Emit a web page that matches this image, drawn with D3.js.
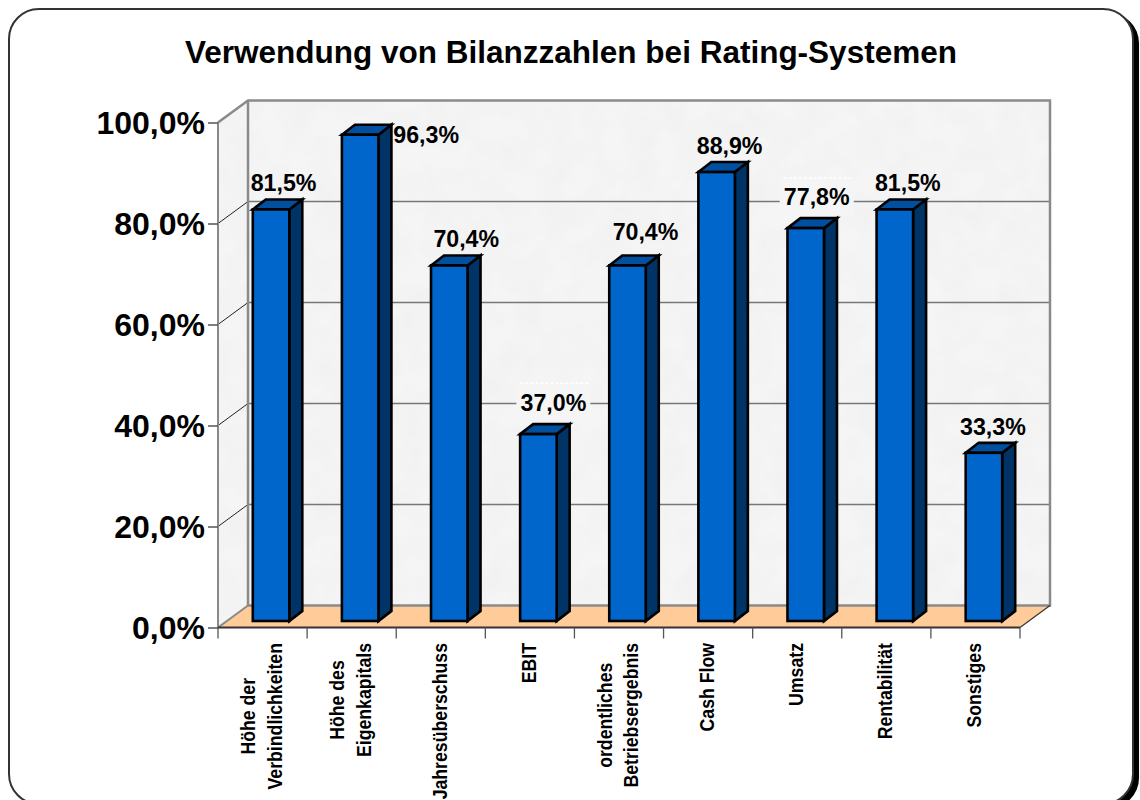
<!DOCTYPE html>
<html lang="de"><head><meta charset="utf-8">
<script src="https://cdn.jsdelivr.net/npm/d3@7"></script>
<style>html,body{margin:0;background:#fff}svg{display:block}text{font-family:"Liberation Sans",Arial,sans-serif;font-weight:bold;fill:#000}</style>
</head><body><svg id="c" width="1140" height="800"></svg>
<script>
const title = "Verwendung von Bilanzzahlen bei Rating-Systemen";
const categories = ["Höhe der\nVerbindlichkeiten","Höhe des\nEigenkapitals","Jahresüberschuss","EBIT","ordentliches\nBetriebsergebnis","Cash Flow","Umsatz","Rentabilität","Sonstiges"];
const values = [81.5,96.3,70.4,37.0,70.4,88.9,77.8,81.5,33.3];
const yTicks = [0,20,40,60,80,100];

const fmt = v => v.toFixed(1).replace(".", ",") + "%";
const svg = d3.select("#c");
const defs = svg.append("defs");
const f = defs.append("filter").attr("id","mottle").attr("x",0).attr("y",0).attr("width",1).attr("height",1);
f.append("feTurbulence").attr("type","fractalNoise").attr("baseFrequency",0.035).attr("numOctaves",3).attr("seed",4).attr("result","n");
f.append("feColorMatrix").attr("in","n").attr("type","matrix")
 .attr("values","0 0 0 0 0.6  0 0 0 0 0.6  0 0 0 0 0.6  0.16 0 0 0 -0.045").attr("result","m");
f.append("feComposite").attr("in","m").attr("in2","SourceGraphic").attr("operator","in").attr("result","c");
f.append("feMerge").selectAll("feMergeNode").data(["SourceGraphic","c"]).join("feMergeNode").attr("in",d=>d);

// frame
svg.append("rect").attr("x",13).attr("y",13).attr("width",1126).attr("height",795).attr("rx",30).attr("fill","#000");
svg.append("rect").attr("x",9).attr("y",9).attr("width",1124).attr("height",795).attr("rx",30).attr("fill","#fff").attr("stroke","#333").attr("stroke-width",2);

svg.append("text").attr("x",571).attr("y",63).attr("text-anchor","middle").attr("font-size",31.5).text(title);

// 3D plot geometry
const L=218,R=1020,Y0=627.5,Y100=122.5,DX=30,DY=-22;
const y = d3.scaleLinear().domain([0,100]).range([Y0,Y100]);
const x = d3.scaleBand().domain(categories).range([L,R]);
const wall="#f5f5f5", edge="#8a8a8a", grid="#777";
const pts=a=>a.map(p=>p.join(",")).join(" ");

svg.append("polygon").attr("points",pts([[L+DX,Y100+DY],[R+DX,Y100+DY],[R+DX,Y0+DY],[L+DX,Y0+DY]])).attr("fill",wall).attr("filter","url(#mottle)");
svg.append("polygon").attr("points",pts([[L,Y100],[L+DX,Y100+DY],[L+DX,Y0+DY],[L,Y0]])).attr("fill",wall).attr("filter","url(#mottle)");
svg.append("polygon").attr("points",pts([[L,Y0],[L+DX,Y0+DY],[R+DX,Y0+DY],[R,Y0]])).attr("fill","#ffcc99");

const gridVals = yTicks.filter(t=>t>0&&t<100);
svg.append("g").selectAll("line").data(gridVals).join("line")
  .attr("x1",L+DX).attr("x2",R+DX).attr("y1",d=>y(d)+DY).attr("y2",d=>y(d)+DY).attr("stroke",grid).attr("stroke-width",1.5);
svg.append("g").selectAll("line").data(gridVals).join("line")
  .attr("x1",L).attr("x2",L+DX).attr("y1",d=>y(d)).attr("y2",d=>y(d)+DY).attr("stroke","#222").attr("stroke-width",1);

// wall outlines
svg.append("path").attr("fill","none").attr("stroke",edge).attr("stroke-width",2.5)
  .attr("d",`M${L},${Y100}L${L+DX},${Y100+DY}H${R+DX}V${Y0+DY}H${L+DX}V${Y100+DY}`);
svg.append("path").attr("fill","none").attr("stroke",edge).attr("stroke-width",2).attr("d",`M${L},${Y100}V${Y0}L${L+DX},${Y0+DY}`);
svg.append("path").attr("fill","none").attr("stroke","#333").attr("stroke-width",1.2).attr("d",`M${R},${Y0}L${R+DX},${Y0+DY}`);

// axes
const yAxis = d3.axisLeft(y).tickValues(yTicks).tickSize(10).tickPadding(3).tickFormat(d=>d.toFixed(1).replace(".",",")+"%");
const ga = svg.append("g").attr("transform",`translate(${L},0)`).call(yAxis);
ga.select(".domain").remove();
ga.selectAll(".tick line").attr("stroke","#555").attr("stroke-width",1.5);
ga.selectAll("text").attr("font-size",32).attr("font-family",null).attr("dy","0.33em");

const xAxis = d3.axisBottom(x).tickSize(0).tickFormat("");
const gx = svg.append("g").attr("transform",`translate(0,${Y0})`).call(xAxis);
gx.select(".domain").remove(); gx.selectAll(".tick").remove();
svg.append("line").attr("x1",L).attr("x2",R).attr("y1",Y0).attr("y2",Y0).attr("stroke","#333").attr("stroke-width",1.8);
const bounds=[...categories.map(c=>x(c)),R];
svg.append("g").selectAll("line").data(bounds).join("line")
  .attr("x1",d=>d).attr("x2",d=>d).attr("y1",Y0).attr("y2",Y0+11).attr("stroke","#555").attr("stroke-width",1.3);

// bars
const BW=36.5,BDX=13,BDY=-10,OX=8.5,OY=-6.5;
const bar = svg.append("g").selectAll("g").data(values).join("g")
  .attr("transform",(d,i)=>`translate(${x(categories[i])+x.bandwidth()/2+OX-BW/2},${OY})`)
  .attr("stroke","#000").attr("stroke-width",2.6).attr("stroke-linejoin","miter");
bar.append("polygon").attr("fill","#003366")
  .attr("points",d=>pts([[BW,y(d)],[BW+BDX,y(d)+BDY],[BW+BDX,Y0+BDY],[BW,Y0]]));
bar.append("polygon").attr("fill","#00509f")
  .attr("points",d=>pts([[0,y(d)],[BDX,y(d)+BDY],[BW+BDX,y(d)+BDY],[BW,y(d)]]));
bar.append("rect").attr("fill","#0066cc").attr("x",0).attr("width",BW).attr("y",d=>y(d)).attr("height",d=>Y0-y(d));

// data labels (layout nudges relative to bar centre / top)
const nudgeX=[12.5,66,17,15,18,13,11,13,9], nudgeY=[27,0,27,32,34,26,31,27,26];
const labels=values.map((v,i)=>({v,cx:x(categories[i])+x.bandwidth()/2+OX+nudgeX[i],cy:y(v)+OY-nudgeY[i]}));
const crossing=labels.filter(l=>gridVals.some(t=>Math.abs(y(t)+DY-l.cy)<10));
const gp=svg.append("g");
gp.selectAll("rect").data(crossing).join("rect").attr("x",d=>d.cx-37).attr("y",d=>d.cy-19).attr("width",74).attr("height",37).attr("fill",wall);
gp.selectAll("line").data(crossing).join("line").attr("x1",d=>d.cx-33).attr("x2",d=>d.cx+36).attr("y1",d=>d.cy-19).attr("y2",d=>d.cy-19)
  .attr("stroke","#fff").attr("stroke-width",1.5).attr("stroke-dasharray","3 2");
svg.append("g").selectAll("text").data(labels).join("text").attr("x",d=>d.cx).attr("y",d=>d.cy).attr("dy","0.36em")
  .attr("text-anchor","middle").attr("font-size",23.2).text(d=>fmt(d.v));

// category labels: rotated, condensed along the reading direction like the reference
const LH=27, FS=20, SQ=0.885;
const cat=svg.append("g").selectAll("g").data(categories).join("g")
  .attr("transform",d=>`translate(${x(d)+x.bandwidth()/2-1},643) rotate(-90) scale(${SQ},1)`);
cat.each(function(d){
  const lines=d.split("\n"), g=d3.select(this);
  const wid=lines.length>1?(()=>{const t=g.append("text").attr("font-size",FS).text(lines.reduce((a,b)=>a.length>b.length?a:b));const w=t.node().getComputedTextLength();t.remove();return w;})():0;
  lines.forEach((s,i)=>{
    g.append("text").attr("font-size",FS)
     .attr("x",lines.length>1?-wid/2:0).attr("y",(i-(lines.length-1)/2)*LH+7)
     .attr("text-anchor",lines.length>1?"middle":"end").text(s);
  });
});
</script></body></html>
